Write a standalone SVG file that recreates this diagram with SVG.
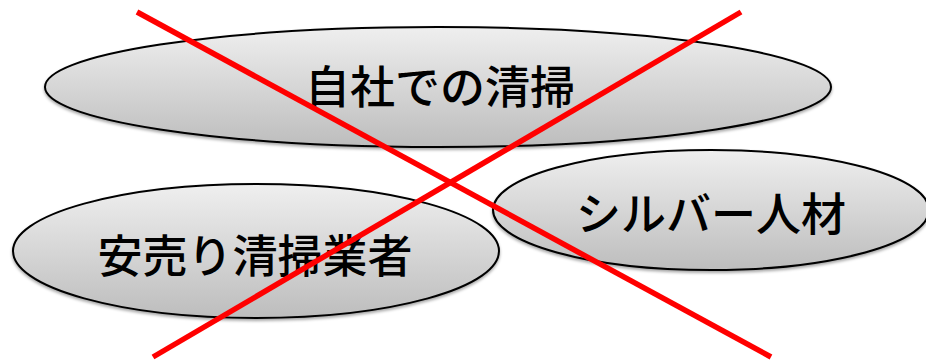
<svg xmlns="http://www.w3.org/2000/svg" width="926" height="363" viewBox="0 0 926 363">
<defs>
<linearGradient id="g" x1="0" y1="0" x2="0" y2="1">
<stop offset="0" stop-color="#efefef"/>
<stop offset="1" stop-color="#bdbdbd"/>
</linearGradient>
<filter id="sh" x="-5%" y="-10%" width="110%" height="130%">
<feDropShadow dx="0" dy="2" stdDeviation="1.5" flood-color="#000" flood-opacity="0.35"/>
</filter>
</defs>
<style>
.n{fill:url(#g);stroke:#000;stroke-width:2;filter:url(#sh)}
.t{font-family:"Noto Sans CJK JP","Noto Sans",sans-serif;font-size:45px;font-weight:500;fill:#000;text-anchor:middle}
.x{stroke:#ff0000;stroke-width:5.5;fill:none}
</style>
<rect width="926" height="363" fill="#fff"/>
<g id="node-jisha">
<ellipse class="n" cx="438" cy="87" rx="393" ry="60"/>
<text class="t" x="440" y="104">自社での清掃</text>
</g>
<g id="node-yasuuri">
<ellipse class="n" cx="256" cy="251" rx="243" ry="67"/>
<text class="t" x="255" y="273">安売り清掃業者</text>
</g>
<g id="node-silver">
<ellipse class="n" cx="711" cy="210" rx="218" ry="60"/>
<text class="t" x="711" y="231">シルバー人材</text>
</g>
<g id="connectors">
<line class="x" x1="137" y1="12" x2="771" y2="357"/>
<line class="x" x1="741" y1="12" x2="153" y2="357"/>
</g>
</svg>
